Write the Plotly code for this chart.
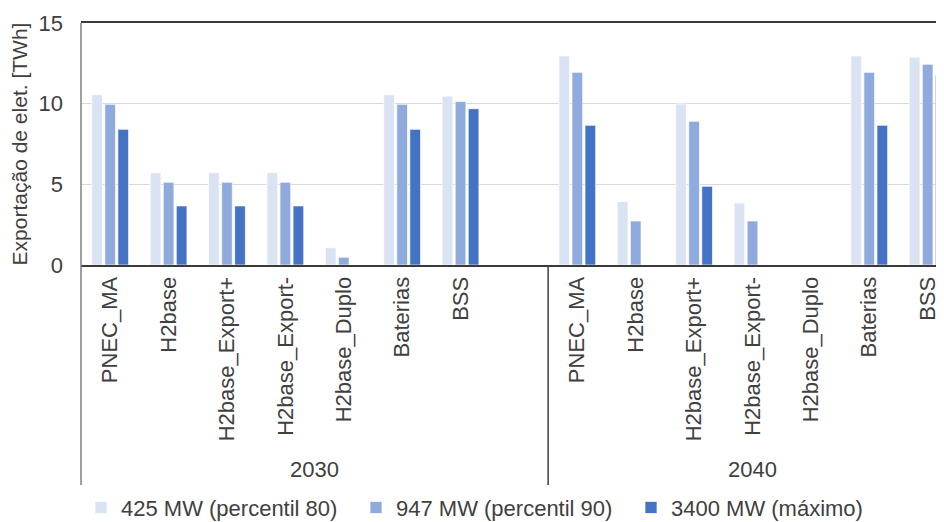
import plotly.graph_objects as go

categories = ["PNEC_MA", "H2base", "H2base_Export+", "H2base_Export-",
              "H2base_Duplo", "Baterias", "BSS"]
years = ["2030", "2040"]
series_names = ["425 MW (percentil 80)", "947 MW (percentil 90)", "3400 MW (máximo)"]

p80_2030 = [10.55, 5.72, 5.72, 5.72, 1.07, 10.55, 10.46]
p90_2030 = [9.96, 5.13, 5.13, 5.13, 0.48, 9.96, 10.13]
max_2030 = [8.41, 3.66, 3.66, 3.66, 0, 8.41, 9.69]
p80_2040 = [12.96, 3.93, 9.98, 3.84, 0, 12.96, 12.88]
p90_2040 = [11.94, 2.73, 8.91, 2.73, 0, 11.94, 12.44]
max_2040 = [8.66, 0, 4.88, 0, 0, 8.66, 11.76]

colors = ["#dae3f3", "#8faadc", "#4472c4"]
font = "Liberation Sans, Arial, sans-serif"
txt = "#404040"

# 2030 gets 8 slots (last one empty), 2040 follows
x_2030 = [i for i in range(len(categories))]
x_2040 = [i + len(categories) + 1 for i in range(len(categories))]
xs = x_2030 + x_2040

fig = go.Figure()
for name, col, a, b in zip(series_names, colors,
                           [p80_2030, p90_2030, max_2030],
                           [p80_2040, p90_2040, max_2040]):
    fig.add_trace(go.Bar(x=xs, y=a + b, name=name, marker_color=col,
                         marker_line=dict(color="rgba(255,255,255,0.7)", width=1)))

# page body has an 8px margin, so the figure is 936x514
fig.update_layout(
    width=936, height=514,
    margin=dict(l=73, r=0, t=15, b=257, autoexpand=False),
    plot_bgcolor="white", paper_bgcolor="white",
    barmode="group", bargap=0.33, bargroupgap=0.18,
    font=dict(family=font, size=22, color=txt),
    showlegend=True,
    legend=dict(orientation="h", x=0, xanchor="left", y=-0.916, yanchor="top",
                entrywidth=230, entrywidthmode="pixels",
                font=dict(size=22, color=txt), traceorder="normal"),
)
fig.update_xaxes(range=[-0.5, 14.28], tickmode="array", tickvals=xs,
                 ticktext=categories + categories, tickangle=-90, ticks="",
                 ticklabelstandoff=1, showgrid=False, zeroline=False, automargin=False,
                 showline=True, linecolor="#3a3a3a", linewidth=2, mirror=True,
                 tickfont=dict(size=22, color=txt))
fig.update_yaxes(range=[0, 15], tickvals=[0, 5, 10, 15], showgrid=True, automargin=False,
                 gridcolor="#d9d9d9", gridwidth=1, zeroline=False, showline=False,
                 ticklabelstandoff=17, tickfont=dict(size=22, color=txt),
                 title=dict(text="Exportação de elet. [TWh]", standoff=14,
                            font=dict(size=21, color=txt)))

# category-axis box lines
fig.add_shape(type="line", xref="paper", yref="paper", x0=0, x1=0, y0=-0.909, y1=1,
              line=dict(color="#808080", width=1.5))
fig.add_shape(type="line", xref="x", yref="paper", x0=7.5, x1=7.5, y0=-0.909, y1=0,
              line=dict(color="#404040", width=1.5))

for yr, xc in zip(years, [3.5, 11]):
    fig.add_annotation(x=xc, xref="x", y=-0.847, yref="paper", yanchor="middle",
                       text=yr, showarrow=False, font=dict(size=22, color=txt))

fig.write_html("out.html")
